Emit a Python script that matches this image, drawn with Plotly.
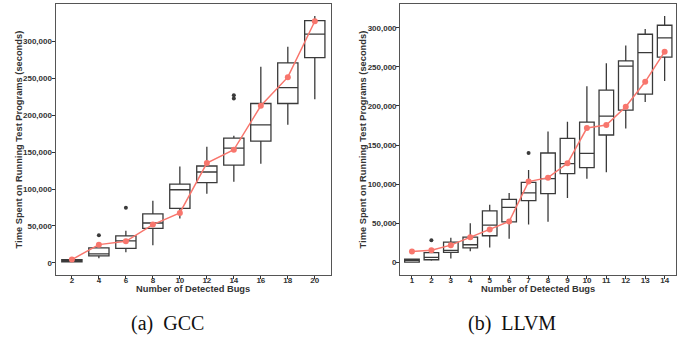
import plotly.graph_objects as go

W, H = 694, 343

def px(x):
    return x / W

def py(y):
    return 1 - y / H

# ---------------- GCC data ----------------
gcc_bugs = [2, 4, 6, 8, 10, 12, 14, 16, 18, 20]
gcc_lower = [500, 6200, 14300, 23800, 59900, 93600, 109900, 134200, 186900, 221600]
gcc_q1 = [1500, 9500, 19700, 46800, 73800, 108500, 132400, 164900, 215700, 277800]
gcc_median = [2800, 12200, 29700, 54000, 99000, 123000, 155400, 186900, 237300, 309500]
gcc_q3 = [4500, 20300, 36500, 66200, 106700, 131100, 168900, 215700, 270700, 327800]
gcc_upper = [7000, 20300, 43600, 84200, 130500, 157200, 172000, 265300, 292700, 334200]
gcc_mean = [4500, 24700, 29200, 51800, 67600, 135100, 153100, 212600, 251400, 327000]
gcc_out_x = [4, 6, 14, 14]
gcc_out_y = [37300, 74700, 227000, 222500]

# ---------------- LLVM data ----------------
llvm_bugs = list(range(1, 15))
llvm_lower = [0, 2000, 5100, 14400, 19100, 30200, 48500, 51900, 82500, 107100, 115200, 171300, 205000, 231800]
llvm_q1 = [400, 3400, 12800, 18700, 34100, 51900, 79100, 88000, 113500, 121200, 162900, 194800, 215200, 262400]
llvm_median = [2600, 6400, 15300, 22600, 47600, 70500, 88900, 107100, 126300, 139400, 187100, 250900, 268200, 287000]
llvm_q3 = [4200, 12400, 25900, 32300, 65900, 80700, 102400, 139900, 158500, 179500, 220300, 257700, 291700, 303200]
llvm_upper = [5000, 12400, 31500, 50100, 73600, 88900, 118200, 167500, 179800, 225400, 254700, 277200, 298500, 315000]
llvm_mean = [14000, 15700, 22100, 32300, 42100, 52300, 103300, 108400, 126700, 171800, 175600, 199000, 230900, 269500]
llvm_out_x = [2, 7]
llvm_out_y = [28400, 139900]

y_ticks = [0, 50000, 100000, 150000, 200000, 250000, 300000]
x_title = "Number of Detected Bugs"
y_title = "Time Spent on Running Test Programs (seconds)"
captions = ["(a)  GCC", "(b)  LLVM"]

BOX_LINE = "#3a3a3a"
MEAN_COL = "#F8766D"
TXT = "#333333"

fig = go.Figure()

def add_panel(xs, lo, q1, med, q3, up, mean, ox, oy, xa, ya, width):
    fig.add_trace(go.Box(
        x=xs, q1=q1, median=med, q3=q3, lowerfence=lo, upperfence=up,
        width=width, whiskerwidth=0, boxpoints=False,
        fillcolor="white", line=dict(color=BOX_LINE, width=1.3),
        xaxis=xa, yaxis=ya, showlegend=False))
    fig.add_trace(go.Scatter(
        x=ox, y=oy, mode="markers",
        marker=dict(color=BOX_LINE, size=4),
        xaxis=xa, yaxis=ya, showlegend=False))
    fig.add_trace(go.Scatter(
        x=xs, y=mean, mode="lines+markers",
        line=dict(color=MEAN_COL, width=1.5),
        marker=dict(color=MEAN_COL, size=6),
        xaxis=xa, yaxis=ya, showlegend=False))

add_panel(gcc_bugs, gcc_lower, gcc_q1, gcc_median, gcc_q3, gcc_upper, gcc_mean,
          gcc_out_x, gcc_out_y, "x", "y", 1.5)
add_panel(llvm_bugs, llvm_lower, llvm_q1, llvm_median, llvm_q3, llvm_upper, llvm_mean,
          llvm_out_x, llvm_out_y, "x2", "y2", 0.75)

tickfont = dict(family="Liberation Sans, Arial", size=8, color=TXT, weight="bold")
common_ax = dict(showline=True, mirror=True, linecolor="#555555", linewidth=1.3,
                 ticks="outside", ticklen=3, tickcolor=TXT, tickwidth=1,
                 showgrid=False, zeroline=False, tickfont=tickfont)

ydom = [py(274.7), py(4)]
fig.update_layout(
    width=W, height=H, margin=dict(l=0, r=0, t=0, b=0),
    paper_bgcolor="white", plot_bgcolor="white",
    xaxis=dict(domain=[px(55.7), px(331)], range=[0.8, 21.2],
               tickvals=gcc_bugs, anchor="y", ticklabelstandoff=-5, **common_ax),
    yaxis=dict(domain=ydom, range=[-16000, 350400], tickformat=",",
               tickvals=y_ticks, anchor="x", ticklabelstandoff=-2, **common_ax),
    xaxis2=dict(domain=[px(400.3), px(676.3)], range=[0.4, 14.6],
                tickvals=llvm_bugs, anchor="y2", ticklabelstandoff=-5, **common_ax),
    yaxis2=dict(domain=ydom, range=[-15700, 330400], tickformat=",",
                tickvals=y_ticks, anchor="x2", ticklabelstandoff=-2, **common_ax),
)

tfont = dict(family="Liberation Sans, Arial", size=9.3, color=TXT, weight="bold")
cfont = dict(family="Liberation Serif, Times New Roman", size=20, color="#111111")
ann = []
for cx in [193.3, 538.3]:
    ann.append(dict(x=px(cx), y=py(289.3), xref="paper", yref="paper",
                    text=x_title, showarrow=False, font=tfont,
                    xanchor="center", yanchor="middle"))
for tx in [19, 363]:
    ann.append(dict(x=px(tx), y=py(139.4), xref="paper", yref="paper",
                    text=y_title, showarrow=False, font=tfont, textangle=-90,
                    xanchor="center", yanchor="middle"))
for cx, cap in [(167.5, captions[0]), (512, captions[1])]:
    ann.append(dict(x=px(cx), y=py(323), xref="paper", yref="paper",
                    text=cap, showarrow=False, font=cfont,
                    xanchor="center", yanchor="middle"))
fig.update_layout(annotations=ann)

fig.write_html("out.html", config={"displayModeBar": False},
               post_script="document.body.style.margin='0';document.body.style.overflow='hidden';")
